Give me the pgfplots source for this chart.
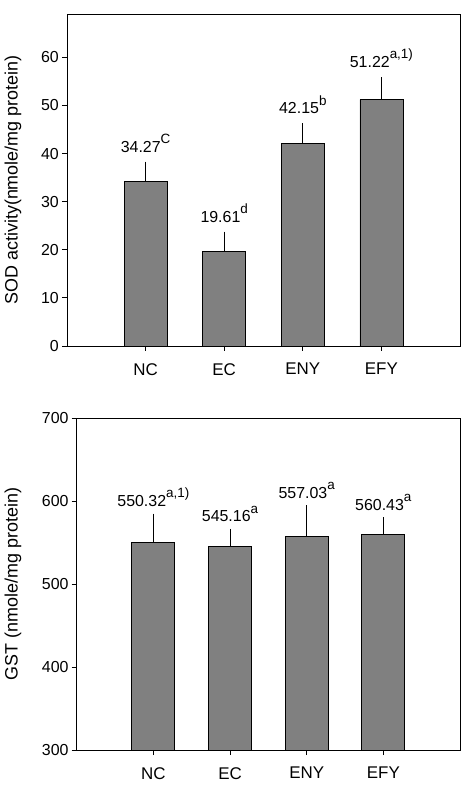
\documentclass[border=0pt]{standalone}
\usepackage{fontspec}
\setmainfont{Liberation Sans}
\usepackage{pgfplots}
\pgfplotsset{compat=1.18}
\definecolor{barg}{RGB}{128,128,128}
\newcommand{\sig}[1]{\raisebox{0.55em}{\fontsize{13.5}{14}\selectfont #1}}
\pgfplotsset{
  mybar/.style={
    scale only axis,
    xmin=-1, xmax=4,
    xtick={0,1,2,3}, xticklabels={NC,EC,ENY,EFY},
    axis line style={line width=0.8bp, black},
    tick style={black, line width=0.8bp},
    major tick length=5bp, tick align=outside,
    xtick pos=bottom, ytick pos=left,
    /pgf/number format/assume math mode=true,
    yticklabel style={font=\fontsize{16}{16}\selectfont, inner sep=0pt, xshift=-3bp},
    xticklabel style={font=\fontsize{17}{17}\selectfont, inner sep=0pt, yshift=-12bp},
    every axis y label/.style={at={(axis description cs:0,0.5)}, rotate=90, anchor=center, font=\fontsize{18}{18}\selectfont},
  },
  barplot/.style={
    ybar, bar width=43bp, fill=barg, draw=black, line width=0.8bp,
    error bars/.cd, y dir=plus, y explicit,
    error bar style={line width=0.8bp, black},
    error mark options={mark size=4.5bp, line width=0.8bp, black},
  },
  labplot/.style={
    draw=none, mark=none, nodes near coords, point meta=explicit symbolic,
    every node near coord/.style={anchor=base, yshift=#1, inner sep=0pt, text=black,
      font=\fontsize{16}{16}\selectfont},
  },
}
\begin{document}
\begin{tikzpicture}
\useasboundingbox (0,0) rectangle (473bp,-785bp);
% SOD
\begin{axis}[mybar, at={(67bp,-14bp)}, anchor=north west,
  width=393bp, height=332bp,
  ymin=0, ymax=69, ytick={0,10,20,30,40,50,60},
  ylabel={SOD activity(nmole/mg protein)},
  every axis y label/.append style={yshift=54bp}]
\addplot[barplot] table[x=x, y=y, y error=err, row sep=\\] {
x y err\\
0 34.27 3.1\\
1 19.61 3.2\\
2 42.15 3.2\\
3 51.22 3.7\\
};
\addplot[labplot=14bp] table[x=x, y expr=\thisrow{y}+\thisrow{err}, meta=lab, row sep=\\] {
x y err lab\\
0 34.27 3.1 {34.27\sig{C}}\\
1 19.61 3.2 {19.61\sig{d}}\\
2 42.15 3.2 {42.15\sig{b}}\\
3 51.22 3.7 {51.22\sig{a,1)}}\\
};
\end{axis}
% GST
\begin{axis}[mybar, at={(76.7bp,-418.3bp)}, anchor=north west,
  width=383.3bp, height=331.7bp,
  ymin=300, ymax=700, ytick={300,400,500,600,700},
  ylabel={GST (nmole/mg protein)},
  every axis y label/.append style={yshift=63.7bp}]
\addplot[barplot] table[x=x, y=y, y error=err, row sep=\\] {
x y err\\
0 550.32 29.2\\
1 545.16 16.2\\
2 557.03 32.5\\
3 560.43 15.0\\
};
\addplot[labplot=11.5bp] table[x=x, y expr=\thisrow{y}+\thisrow{err}, meta=lab, row sep=\\] {
x y err lab\\
0 550.32 29.2 {550.32\sig{a,1)}}\\
1 545.16 16.2 {545.16\sig{a}}\\
2 557.03 32.5 {557.03\sig{a}}\\
3 560.43 15.0 {560.43\sig{a}}\\
};
\end{axis}
\end{tikzpicture}
\end{document}
